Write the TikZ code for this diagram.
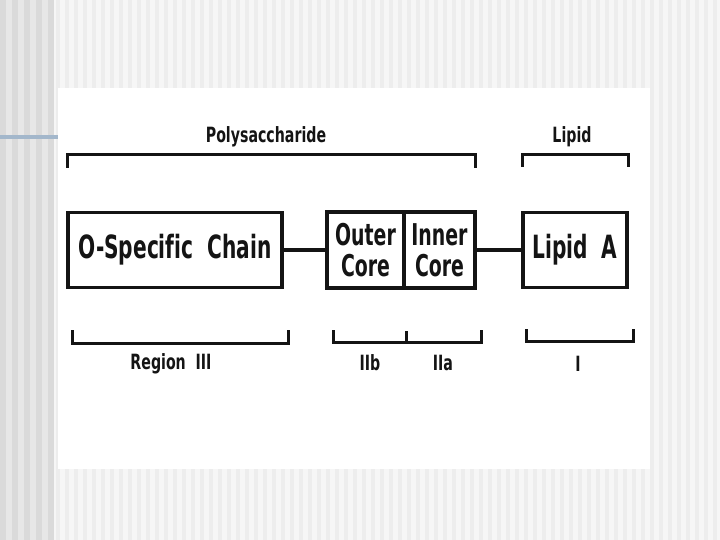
\documentclass[tikz,border=0pt]{standalone}
\usepackage{fontspec}
\newfontfamily\lpsfont[FakeStretch=0.7,Ligatures=NoCommon]{DejaVu Sans Condensed}
\newfontfamily\tagfont[FakeStretch=0.75,Ligatures=NoCommon]{DejaVu Sans Condensed}
\usetikzlibrary{positioning,calc}
\definecolor{ink}{HTML}{141414}
\definecolor{stripeA}{HTML}{DADADA}
\definecolor{stripeB}{HTML}{E7E7E7}
\definecolor{stripeC}{HTML}{EDEDED}
\definecolor{stripeD}{HTML}{F6F6F6}
\definecolor{rule}{HTML}{A3B7CB}
\tikzset{part/.style={draw=ink,line width=3.2pt,inner sep=0pt,align=center,
    font=\lpsfont\bfseries\fontsize{32}{31}\selectfont,text=ink},
  core/.style={part,minimum height=76pt,font=\lpsfont\bfseries\fontsize{30}{31}\selectfont},
  wire/.style={draw=ink,line width=3.2pt},
  brace/.style={draw=ink,line width=3pt,line join=miter},
  tag/.style={font=\tagfont\bfseries\fontsize{21}{23}\selectfont,text=ink,inner sep=0pt}}
\begin{document}
\begin{tikzpicture}[x=1pt,y=-1pt]
\useasboundingbox (0,0) rectangle (720,540);
% slide background
\fill[stripeB] (0,0) rectangle (54,540);
\foreach \x in {0,12,...,48}{\fill[stripeA] (\x,0) rectangle +(6,540);}
\fill[stripeD] (54,0) rectangle (720,540);
\foreach \x in {56,65,...,716}{\fill[stripeC] (\x,0) rectangle +(4,540);}
\draw[rule,line width=4pt] (0,137) -- (58,137);
\fill[white] (58,88) rectangle (650,469);
% boxes
\node[part,minimum width=214pt,minimum height=75pt] (chain) at (175,250) {O-Specific\ \ Chain};
\node[core,minimum width=77pt] (outer) at (365.5,250) {Outer\\Core};
\node[core,minimum width=71pt,right=-3.2pt of outer] (inner) {Inner\\Core};
\node[part,minimum width=104pt,minimum height=75pt] (lipidA) at (575,250) {Lipid\ \ A};
\draw[wire] (chain.east) -- (outer.west);
\draw[wire] (inner.east) -- (lipidA.west);
% upper brackets
\draw[brace] (67,168) -- (67,155) -- (475,155) -- (475,168);
\node[tag] (poly) at (266,137) {Polysaccharide};
\draw[brace] (522,167) -- (522,155) -- (628,155) -- (628,167);
\node[tag] (lipid) at (572,137) {Lipid};
% lower brackets
\draw[brace] (72,330) -- (72,343) -- (288,343) -- (288,330);
\node[tag] (reg3) at (171,364) {Region\ \ III};
\draw[brace] (333,330) -- (333,342) -- (481,342) -- (481,330);
\draw[brace] (406,342) -- (406,331);
\node[tag] (reg2b) at (370,363) {IIb};
\node[tag] (reg2a) at (443,363) {IIa};
\draw[brace] (526,329) -- (526,341) -- (633,341) -- (633,329);
\node[tag] (reg1) at (578,364) {I};
\end{tikzpicture}
\end{document}
